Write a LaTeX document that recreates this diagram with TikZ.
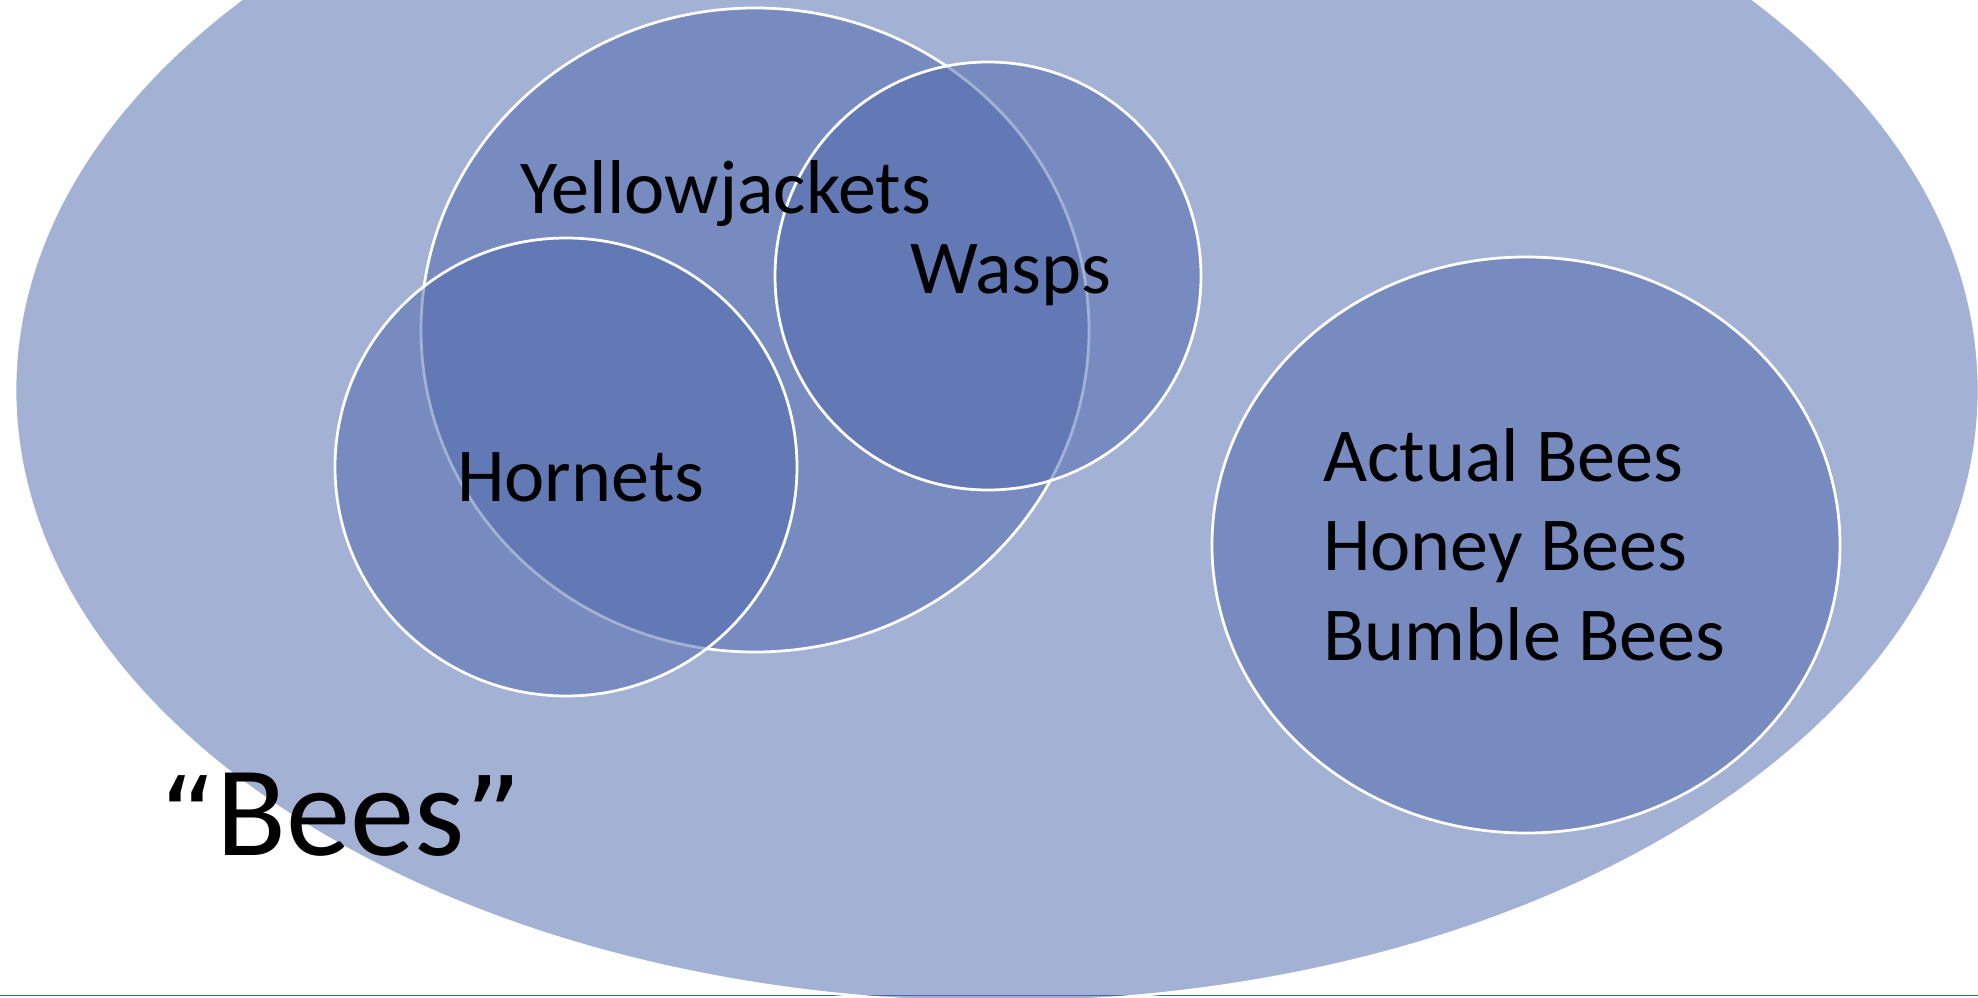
\documentclass[tikz,border=0pt]{standalone}
\usepackage{fontspec}
\setmainfont{Carlito}
\newfontfamily\quotefont{DejaVu Sans}
\definecolor{setblue}{RGB}{79,106,174}
\definecolor{framelineblue}{RGB}{68,102,170}
\begin{document}
\begin{tikzpicture}[x=1bp,y=-1bp,
  setshape/.style={fill=setblue, fill opacity=0.52, draw=white, draw opacity=1, line width=2.75bp},
  lbl/.style={anchor=base west, inner sep=0pt, text=black, font=\fontsize{76.5}{90}\selectfont},
  biglbl/.style={anchor=base west, inner sep=0pt, text=black, font=\fontsize{129}{150}\selectfont}]
\useasboundingbox (0,0) rectangle (1978,997);
\begin{scope}
  \clip (0,0) rectangle (1978,997);
  \fill[white] (0,0) rectangle (1978,997);
  \draw[framelineblue, line width=1.3bp] (0,995.8) -- (1978,995.8);
  % outer "Bees" set
  \path[setshape] (997,390) ellipse [x radius=982, y radius=612];
  % actual bees
  \path[setshape] (1526,545) ellipse [x radius=314, y radius=288];
  % yellowjackets
  \path[setshape] (755,330) ellipse [x radius=334, y radius=322];
  % hornets
  \path[setshape] (566,467) ellipse [x radius=231, y radius=229];
  % wasps
  \path[setshape] (988,276) ellipse [x radius=213, y radius=214];
\end{scope}
\node[lbl] (yj) at (520,213) {Yellowjackets};
\node[lbl] (wa) at (910,293) {Wasps};
\node[lbl] (ho) at (457,501) {Hornets};
\node[lbl] (ab) at (1323,481) {Actual Bees};
\node[lbl] (hb) at (1323,570) {Honey Bees};
\node[lbl] (bb) at (1323,660) {Bumble Bees};
\node[biglbl] (bees) at (160,855) {{\quotefont\fontsize{110}{130}\selectfont “}Bees{\quotefont\fontsize{110}{130}\selectfont ”}};
\end{tikzpicture}
\end{document}
